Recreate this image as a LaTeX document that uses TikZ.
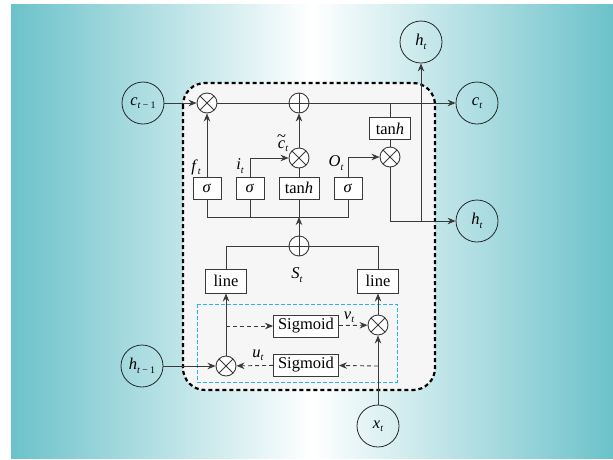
\documentclass[tikz,border=0pt]{standalone}
\usepackage{fontspec}
\setmainfont{Liberation Serif}
\usetikzlibrary{arrows.meta,calc}

\definecolor{teal0}{HTML}{6CC2CA}
\definecolor{cellfill}{HTML}{F6F6F6}
\definecolor{wire}{HTML}{3A3A3A}
\definecolor{gateblue}{HTML}{2BB4E6}

% italic symbol with a small italic subscript
\newcommand{\vsub}[2]{\textit{#1}\raisebox{-0.45ex}{\fontsize{10}{10}\selectfont\itshape #2}}
% candidate state: c with a tilde above
\newcommand{\ctilde}{\makebox[0pt][l]{\raisebox{0.95ex}{\kern-0.05em\textasciitilde}}\textit{c}}

\tikzset{
  wireline/.style={draw=wire, line width=0.9pt},
  arr/.style={wireline, -{Stealth[length=8pt,width=6.5pt]}},
  darr/.style={arr, dash pattern=on 4pt off 3pt},
  varnode/.style={circle, draw=black!85, line width=0.8pt, minimum size=42pt, inner sep=0pt},
  opnode/.style={circle, draw=wire, line width=0.9pt, fill=white, minimum size=20pt, inner sep=0pt},
  mulnode/.style={opnode, path picture={
      \draw[wire, line width=0.9pt]
        (path picture bounding box.north west) -- (path picture bounding box.south east)
        (path picture bounding box.north east) -- (path picture bounding box.south west);}},
  addnode/.style={opnode, path picture={
      \draw[wire, line width=0.9pt]
        (path picture bounding box.north) -- (path picture bounding box.south)
        (path picture bounding box.west) -- (path picture bounding box.east);}},
  unitbox/.style={draw=wire, line width=0.9pt, fill=white, minimum height=22pt,
      inner sep=0pt},
  lbl/.style={inner sep=0pt}
}

\begin{document}
\begin{tikzpicture}[x=1pt, y=-1pt, font=\fontsize{16.5}{18}\selectfont]
\useasboundingbox (0,0) rectangle (613,459);

% background band
\fill[left color=teal0, right color=white] (11,4) rectangle (312.5,458);
\fill[left color=white, right color=teal0] (312,4) rectangle (613,458);

% cell outline
\draw[fill=cellfill, line width=2.2pt, dash pattern=on 4pt off 3pt, rounded corners=22pt]
  (183,83) rectangle (435,390);

% gating block
\draw[gateblue, line width=0.9pt, dash pattern=on 4pt off 2pt] (197,304) rectangle (397,382);

% ---- nodes ----
\node[varnode] (ctm1) at (143,103) {\vsub{c}{t\,−\,\upshape 1}};
\node[mulnode] (fx) at (207,103) {};
\node[addnode] (add) at (299,103) {};
\node[varnode] (ct) at (477,103) {\vsub{c}{t}};
\node[varnode] (htop) at (421,42) {\vsub{h}{t}};
\node[varnode] (hr) at (477,221) {\vsub{h}{t}};

\node[unitbox, minimum width=41pt] (tanho) at (390,128.5) {tan\textit{h}};
\node[mulnode] (ox) at (390,157) {};
\node[mulnode] (cx) at (299,158) {};

\node[unitbox, minimum width=28pt] (s1) at (207,188) {\textit{σ}};
\node[unitbox, minimum width=28pt] (s2) at (250,188) {\textit{σ}};
\node[unitbox, minimum width=40pt] (th) at (299,188) {tan\textit{h}};
\node[unitbox, minimum width=28pt] (s4) at (348,188) {\textit{σ}};

\node[addnode] (st) at (299,246) {};
\node[unitbox, minimum width=41pt, minimum height=24pt] (l1) at (226,281) {line};
\node[unitbox, minimum width=41pt, minimum height=24pt] (l2) at (378,281) {line};

\node[unitbox, minimum width=65pt] (sigA) at (306,326) {Sigmoid};
\node[unitbox, minimum width=65pt] (sigB) at (306,365) {Sigmoid};
\node[mulnode] (vx) at (378,325) {};
\node[mulnode] (ux) at (226,366) {};

\node[varnode] (hm1) at (142,366) {\vsub{h}{t\,−\,\upshape 1}};
\node[varnode] (xt) at (378,426) {\vsub{x}{t}};

% ---- labels ----
\node[lbl] at (196,167) {\vsub{f}{t}};
\node[lbl] at (240,166) {\vsub{i}{t}};
\node[lbl] at (283,143) {\ctilde\raisebox{-0.45ex}{\fontsize{10}{10}\selectfont\itshape t}};
\node[lbl] at (336,163) {\vsub{O}{t}};
\node[lbl] at (297,275) {\vsub{S}{t}};
\node[lbl] at (258,355) {\vsub{u}{t}};
\node[lbl] at (349,317) {\vsub{v}{t}};

% ---- cell state path ----
\draw[arr] (ctm1) -- (fx);
\draw[wireline] (fx) -- (add);
\draw[arr] (add) -- (ct);

% ---- gates ----
\draw[arr] (s1) -- (fx);
\draw[arr] (s2.north) |- (cx);
\draw[wireline] (th) -- (cx);
\draw[arr] (cx) -- (add);

\coordinate (tapC) at (390,103);
\draw[wireline] (tapC) -- (tanho);
\draw[wireline] (tanho) -- (ox);
\draw[arr] (s4.north) |- (ox);

% output
\coordinate (hout) at (390,221);
\coordinate (hup) at (421,221);
\draw[wireline] (ox) -- (hout);
\draw[arr] (hout) -- (hr);
\draw[arr] (hup) -- (htop);

% gate input bus
\coordinate (bus) at (207,217);
\draw[wireline] (s1.south) -- (s1.south |- bus) -- (s4.south |- bus) -- (s4.south);
\draw[wireline] (s2.south) -- (s2.south |- bus);
\draw[wireline] (th.south) -- (th.south |- bus);
\draw[arr] (st) -- (st.north |- bus);

% summation of the two branches
\draw[wireline] (l1.north) |- (st.west);
\draw[wireline] (l2.north) |- (st.east);
\draw[arr] (ux) -- (l1);
\draw[arr] (vx) -- (l2);

% inputs
\draw[arr] (hm1) -- (ux);
\draw[arr] (xt) -- (vx);

% cross gating
\coordinate (tapA) at (226,326);
\coordinate (tapB) at (378,366);
\draw[darr] (tapA) -- (sigA);
\draw[darr] (sigA) -- (vx);
\draw[darr] (tapB) -- (sigB);
\draw[darr] (sigB) -- (ux);
\end{tikzpicture}
\end{document}
